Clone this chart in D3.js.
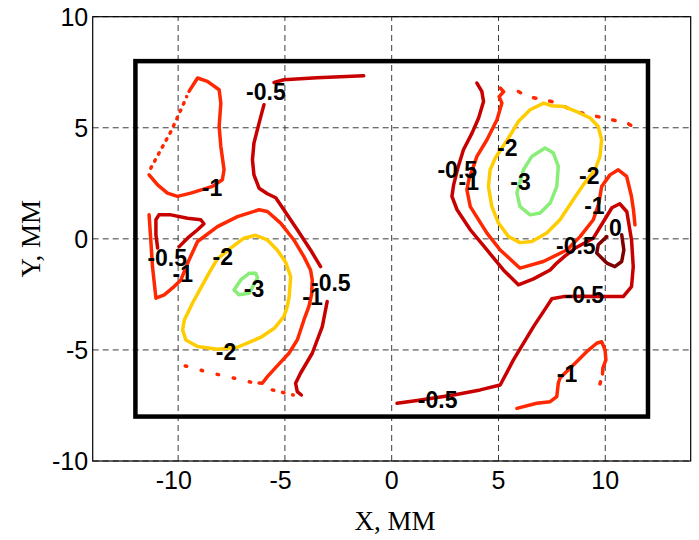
<!DOCTYPE html>
<html>
<head>
<meta charset="utf-8">
<script src="https://cdn.jsdelivr.net/npm/d3@7"></script>
<style>
  body { margin: 0; background: #fff; }
</style>
</head>
<body>
<div id="vis"></div>
<script>
// contour levels and their colours
const levels = [0, -0.5, -1, -2, -3];
const levelColors = ["#800000", "#c80000", "#ff2800", "#ffcc00", "#88ee77"];

const xTicks = [-10, -5, 0, 5, 10];
const yTicks = [-10, -5, 0, 5, 10];

// measuring frame, mm
const frameX = [-12, 12];
const frameY = [-8, 8];

// traced contour lines, [x, y] in mm
const leftTopM1 = [[-9.49,6.64],[-9.09,7.24],[-8.63,7.09],[-8.08,6.71],[-8.00,6.11],[-8.08,5.06],[-8.00,4.16],[-7.85,3.11],[-7.93,2.66],[-8.39,2.36],[-9.41,2.06],[-10.03,1.91],[-10.50,2.06],[-10.96,2.43],[-11.36,2.88]];
const leftTopM1Dots = [[-11.28,3.18],[-10.81,4.01],[-10.34,4.83],[-9.87,5.81],[-9.60,6.40]];
const leftTopM05 = [[-5.51,7.04],[-5.05,7.16],[-3.50,7.25],[-1.31,7.34]];
const leftM05a = [[-5.98,6.04],[-6.21,5.21],[-6.45,4.31],[-6.52,3.56],[-6.45,2.88],[-6.21,2.28],[-5.82,2.03],[-5.43,1.85],[-5.05,1.31],[-4.42,0.41],[-3.80,-0.50],[-3.33,-1.25]];
const leftM05b = [[-3.02,-2.82],[-3.25,-3.95],[-3.72,-5.15],[-4.27,-6.05],[-4.50,-6.50],[-4.42,-6.88],[-4.23,-7.03]];
const leftM05tri = [[-10.96,-0.41],[-11.04,0.18],[-11.04,0.86],[-10.90,1.08],[-10.34,1.08],[-9.56,0.93],[-8.94,0.86],[-8.79,0.68],[-9.09,0.41],[-9.56,0.03],[-9.95,-0.35]];
const leftM1 = [[-11.36,1.08],[-11.28,-0.05],[-11.20,-1.25],[-11.04,-2.67],[-10.65,-2.52],[-10.19,-2.15],[-9.87,-1.85],[-9.49,-0.95],[-9.09,-0.12],[-8.16,0.55],[-7.22,1.00],[-6.21,1.31],[-5.82,1.23],[-5.20,0.71],[-4.58,-0.05],[-4.11,-0.80],[-3.80,-1.40],[-3.72,-1.85],[-3.75,-2.50],[-3.88,-3.05],[-4.11,-3.65],[-4.42,-4.55],[-4.81,-5.15],[-5.36,-5.72],[-5.82,-6.20],[-6.06,-6.50],[-6.21,-6.49]];
const leftM1Dots = [[-6.60,-6.45],[-7.69,-6.20],[-8.55,-6.02],[-9.41,-5.78],[-10.19,-5.60]];
const leftM1Dots2 = [[-5.59,-6.80],[-5.12,-6.91],[-4.61,-7.03]];
const leftM2 = [[-7.54,-0.42],[-6.92,0.03],[-6.37,0.16],[-5.82,-0.05],[-5.36,-0.50],[-4.97,-1.04],[-4.73,-1.70],[-4.80,-2.60],[-4.89,-3.05],[-5.05,-3.50],[-5.48,-4.01],[-6.09,-4.41],[-6.60,-4.63],[-7.22,-4.88],[-8.16,-4.97],[-9.09,-4.85],[-9.64,-4.55],[-9.79,-4.10],[-9.71,-3.65],[-9.33,-2.90],[-8.86,-2.07],[-8.47,-1.40],[-8.16,-0.90],[-7.54,-0.42]];
const leftM3 = [[-7.38,-2.30],[-7.07,-1.85],[-6.68,-1.55],[-6.37,-1.55],[-6.28,-1.76],[-6.68,-2.45],[-7.15,-2.52],[-7.38,-2.30]];

const rightM05 = [[3.99,7.01],[4.22,6.64],[4.30,6.18],[4.07,5.44],[3.76,4.76],[3.36,4.01],[3.10,3.20],[2.90,2.43],[2.82,1.91],[3.06,1.31],[3.68,0.41],[4.46,-0.50],[5.23,-1.40],[5.93,-2.07],[6.64,-1.80],[7.42,-1.40],[7.73,-1.09],[8.12,-0.77],[8.62,-0.40],[9.44,0.03],[9.91,0.77],[10.31,1.40],[10.68,1.58],[11.01,1.22],[11.23,-0.05],[11.31,-1.25],[11.23,-2.15],[10.84,-2.60],[10.07,-2.60],[9.00,-2.58],[8.04,-2.60],[7.50,-2.70],[7.26,-3.05],[6.64,-3.95],[5.70,-5.45],[5.08,-6.58],[4.14,-6.80],[2.90,-7.03],[1.19,-7.28],[0.25,-7.40]];
const rightM1 = [[5.08,6.79],[5.24,6.62],[5.03,6.40],[5.16,6.11],[4.93,5.36],[4.46,4.46],[3.99,3.71],[3.83,3.26],[3.62,2.70],[3.52,2.21],[3.68,1.45],[4.46,0.26],[5.08,-0.50],[6.01,-1.32],[7.10,-1.02],[8.20,-0.50],[8.82,0.10],[9.44,0.86],[9.70,1.60],[9.83,2.36],[10.22,2.88],[10.61,3.11],[11.00,2.81],[11.22,1.94],[11.32,1.31],[11.39,0.63]];
const rightM1Dots = [[5.93,6.63],[6.40,6.40],[7.49,6.18],[8.72,5.70],[9.90,5.45],[11.07,5.19],[11.62,4.85]];
const rightM2 = [[5.47,4.54],[5.93,5.28],[6.48,5.81],[7.12,6.11],[7.50,5.99],[8.04,5.96],[8.66,5.73],[9.29,5.44],[9.67,5.06],[9.83,4.46],[9.75,3.71],[9.52,3.11],[8.97,2.43],[8.50,1.76],[7.88,0.86],[7.26,0.26],[6.56,-0.12],[6.01,-0.17],[5.47,0.10],[5.00,0.71],[4.69,1.45],[4.53,2.36],[4.61,3.11],[4.85,3.64],[5.47,4.54]];
const rightM3 = [[7.18,4.09],[7.57,3.86],[7.80,3.26],[7.73,2.36],[7.42,1.61],[6.95,1.16],[6.48,1.08],[6.01,1.45],[5.86,2.06],[6.17,3.11],[6.56,3.71],[7.18,4.09]];
const rightZero = [[10.77,0.18],[10.87,-0.50],[10.77,-1.02],[10.45,-1.25],[10.07,-1.09],[9.60,-0.64],[9.67,-0.27],[10.07,0.10]];
const bottomM1 = [[5.86,-7.63],[6.79,-7.40],[7.42,-7.33],[7.73,-7.10],[7.80,-6.50],[7.88,-6.26],[8.66,-5.53],[9.13,-5.08],[9.60,-4.70],[9.83,-4.63],[9.99,-5.00],[10.03,-5.45],[9.89,-5.81],[9.87,-6.08]];
const bottomM1Dot = [[9.78,-6.44],[9.75,-6.53]];

// [level, points, dash]
const traces = [
  [-1, leftTopM1, null], [-1, leftTopM1Dots, "1.5,6.5"],
  [-0.5, leftTopM05, null], [-0.5, leftM05a, null], [-0.5, leftM05b, null], [-0.5, leftM05tri, null],
  [-1, leftM1, null], [-1, leftM1Dots, "1.5,15"], [-1, leftM1Dots2, "1.5,9"],
  [-2, leftM2, null], [-3, leftM3, null],
  [-0.5, rightM05, null], [-1, rightM1, null], [-1, rightM1Dots, "2.5,14"],
  [-2, rightM2, null], [-3, rightM3, null], [0, rightZero, null],
  [-1, bottomM1, null], [-1, bottomM1Dot, null]
];

// contour labels: x, y, text
const labels = [
  [-8.41, 2.31, "-1"], [-5.89, 6.62, "-0.5"], [-10.51, -0.86, "-0.5"], [-9.78, -1.55, "-1"],
  [-7.91, -0.80, "-2"], [-6.45, -2.25, "-3"], [-7.76, -5.08, "-2"], [-2.85, -1.98, "-0.5"],
  [-3.71, -2.60, "-1"], [2.15, -7.25, "-0.5"], [3.07, 3.11, "-0.5"], [3.61, 2.58, "-1"],
  [5.41, 4.09, "-2"], [6.03, 2.57, "-3"], [9.25, 2.84, "-2"], [9.49, 1.49, "-1"],
  [10.47, 0.52, "0"], [8.62, -0.31, "-0.5"], [9.02, -2.52, "-0.5"], [8.21, -6.05, "-1"]
];

const width = 699, height = 540;
const margin = { top: 16.7, right: 8.3, bottom: 79, left: 92.7 };

const svg = d3.select("#vis").append("svg")
  .attr("width", width)
  .attr("height", height);

const x = d3.scaleLinear([-14, 14], [margin.left, width - margin.right]);
const y = d3.scaleLinear([-10, 10], [height - margin.bottom, margin.top]);
const color = d3.scaleOrdinal(levels, levelColors);

// dashed grid
svg.append("g")
  .attr("stroke", "#3c3c3c")
  .attr("stroke-width", 1)
  .attr("stroke-dasharray", "6,4")
  .call(g => g.selectAll(".gx").data(xTicks).join("line")
    .attr("x1", d => x(d)).attr("x2", d => x(d))
    .attr("y1", y(-10)).attr("y2", y(10)))
  .call(g => g.selectAll(".gy").data(yTicks).join("line")
    .attr("class", "gy")
    .attr("y1", d => y(d)).attr("y2", d => y(d))
    .attr("x1", x(-14)).attr("x2", x(14)));

const line = d3.line().x(d => x(d[0])).y(d => y(d[1]));

svg.append("g")
  .attr("fill", "none")
  .attr("stroke-width", 3.5)
  .attr("stroke-linecap", "round")
  .attr("stroke-linejoin", "round")
  .selectAll("path")
  .data(traces)
  .join("path")
  .attr("stroke", d => color(d[0]))
  .attr("stroke-dasharray", d => d[2])
  .attr("d", d => line(d[1]));

// frame
svg.append("rect")
  .attr("x", x(frameX[0]))
  .attr("y", y(frameY[1]))
  .attr("width", x(frameX[1]) - x(frameX[0]))
  .attr("height", y(frameY[0]) - y(frameY[1]))
  .attr("fill", "none")
  .attr("stroke", "#000")
  .attr("stroke-width", 4.5);

svg.append("g")
  .style("font", "bold 23px 'Liberation Sans', Arial, sans-serif")
  .attr("text-anchor", "middle")
  .selectAll("text")
  .data(labels)
  .join("text")
  .attr("x", d => x(d[0]))
  .attr("y", d => y(d[1]))
  .attr("dy", "0.36em")
  .text(d => d[2]);

// axes box
svg.append("rect")
  .attr("x", x(-14)).attr("y", y(10))
  .attr("width", x(14) - x(-14)).attr("height", y(-10) - y(10))
  .attr("fill", "none").attr("stroke", "#000").attr("stroke-width", 1.2);

const tickFont = "25px 'Liberation Sans', Arial, sans-serif";

svg.append("g")
  .style("font", tickFont)
  .attr("text-anchor", "middle")
  .selectAll("text").data(xTicks).join("text")
  .attr("x", d => x(d))
  .attr("y", y(-10) + 28)
  .attr("dx", d => d < 0 ? "-0.17em" : 0)
  .text(d => d);

svg.append("g")
  .style("font", tickFont)
  .attr("text-anchor", "end")
  .selectAll("text").data(yTicks).join("text")
  .attr("x", x(-14) - 4.5)
  .attr("y", d => y(d))
  .attr("dy", "0.36em")
  .text(d => d);

svg.append("text")
  .style("font", "27px 'Liberation Serif', 'Times New Roman', serif")
  .attr("text-anchor", "middle")
  .attr("x", 395)
  .attr("y", 530)
  .text("X, ММ");

svg.append("text")
  .style("font", "27px 'Liberation Serif', 'Times New Roman', serif")
  .attr("text-anchor", "middle")
  .attr("transform", `translate(40,${(y(10) + y(-10)) / 2}) rotate(-90)`)
  .text("Y, ММ");
</script>
</body>
</html>
